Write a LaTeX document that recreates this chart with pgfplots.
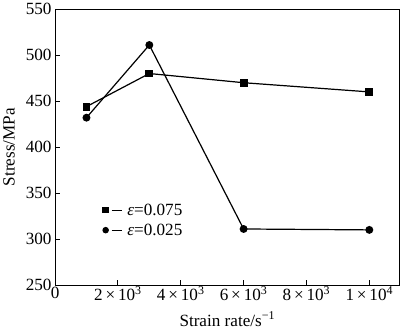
\documentclass[border=0pt]{standalone}
\usepackage{pgfplots}
\pgfplotsset{compat=1.18}
\usepackage{fontspec}
\setmainfont{Liberation Serif}
\begin{document}
\begin{tikzpicture}
\begin{axis}[
  scale only axis,
  width=342pt, height=274pt,
  xmin=0, xmax=10960,
  ymin=250, ymax=550,
  xtick={0,2000,4000,6000,8000,10000},
  xticklabels={0,2\,×\,10\textsuperscript{3},4\,×\,10\textsuperscript{3},6\,×\,10\textsuperscript{3},8\,×\,10\textsuperscript{3},1\,×\,10\textsuperscript{4}},
  ytick={250,300,...,550},
  scaled x ticks=false,
  /pgf/number format/assume math mode=true,
  tick align=inside,
  xtick pos=bottom, ytick pos=left,
  major tick length=5pt,
  axis line style={line width=1pt},
  tick style={line width=0.8pt, black},
  tick label style={font=\fontsize{17}{20}\selectfont},
  xticklabel style={yshift=2pt},
  label style={font=\fontsize{17}{20}\selectfont},
  xlabel={Strain rate/s\textsuperscript{−1}},
  ylabel={Stress/MPa},
  xlabel style={yshift=-4pt},
  ylabel style={yshift=4pt},
  legend style={draw=none, fill=none, at={(rel axis cs:0.13,0.31)}, anchor=north west,
     font=\fontsize{17}{20}\selectfont, row sep=3pt},
  legend cell align=left,
  legend image code/.code={
    \draw[#1, mark=none] (6pt,0) -- (16pt,0);
    \draw[#1, mark size=2.6pt] plot coordinates {(0,0)};
    \path (19pt,0);
  },
]
\addplot[black, line width=1.2pt, mark=square*, mark size=3.3pt] coordinates {
  (1000,444) (3000,480) (6000,470) (10000,460)
};
\addlegendentry{\textit{ε}=0.075}
\addplot[black, line width=1.2pt, mark=*, mark size=3.3pt] coordinates {
  (1000,432) (3000,511) (6000,311) (10000,310)
};
\addlegendentry{\textit{ε}=0.025}
\end{axis}
\end{tikzpicture}
\end{document}
